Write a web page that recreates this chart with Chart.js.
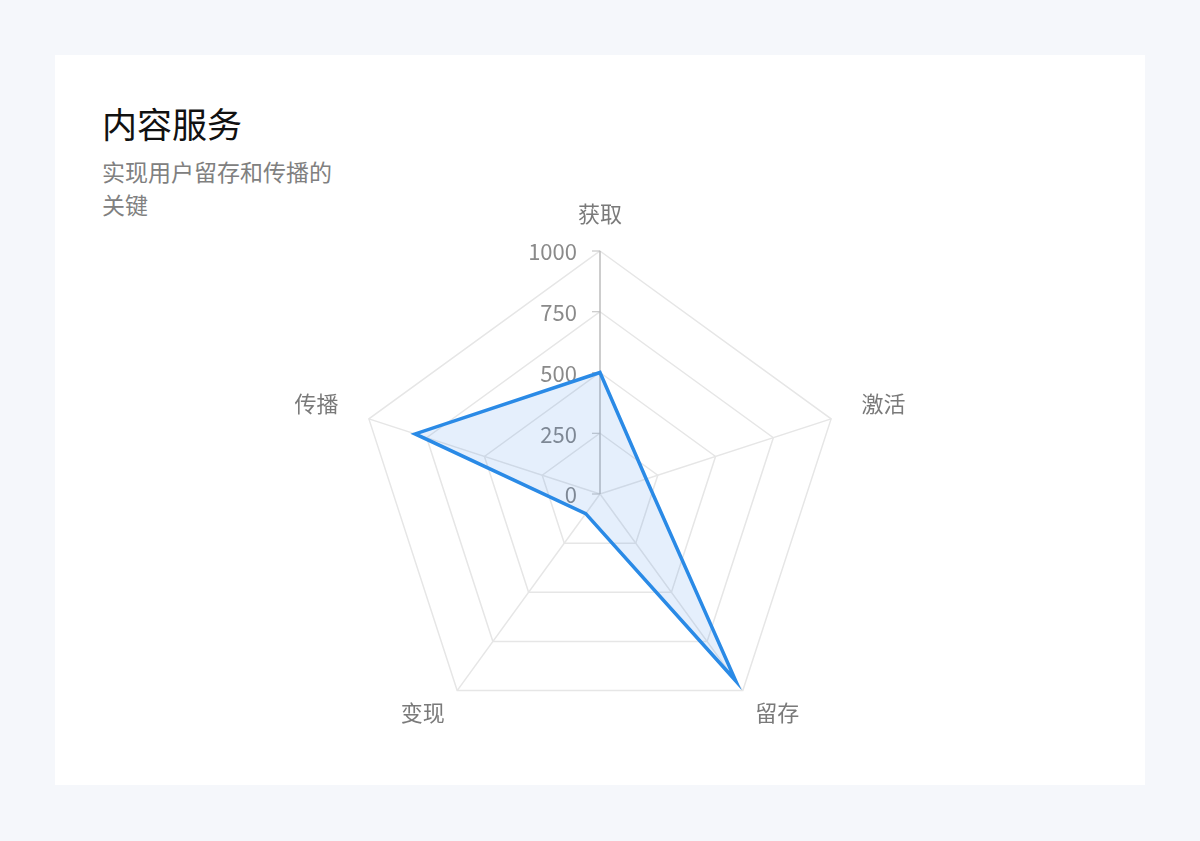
<!DOCTYPE html>
<html>
<head>
<meta charset="utf-8">
<script src="https://cdn.jsdelivr.net/npm/chart.js@4.4.0/dist/chart.umd.min.js"></script>
<style>
  html, body { margin: 0; padding: 0; background: #f5f7fb; }
  body { width: 1200px; height: 841px; position: relative; font-family: "Noto Sans CJK SC", "Noto Sans", sans-serif; }
  .card { position: absolute; left: 55px; top: 55px; width: 1090px; height: 730px; background: #fff; }
  .title { position: absolute; left: 47px; top: 45px; font-size: 35px; color: #111; line-height: 46px; }
  .sub { position: absolute; left: 47px; top: 100px; width: 240px; font-size: 23px; color: #808080; line-height: 33px; }
  .wrap { position: absolute; left: 200px; top: 132px; width: 690px; height: 572px; }
</style>
</head>
<body>
<div class="card">
  <div class="title">内容服务</div>
  <div class="sub">实现用户留存和传播的关键</div>
  <div class="wrap"><canvas id="radar"></canvas></div>
</div>
<script>
// 维度与数值
const labels = ['获取', '激活', '留存', '变现', '传播'];
const values = [500, 200, 950, 100, 800];
const tickValues = [0, 250, 500, 750, 1000];
const labelGap = [32, 32, 21, 21, 32];

// 刻度文字画在轴线左侧，带小刻度线
const tickPlugin = {
  id: 'leftTicks',
  beforeDatasetsDraw(chart) {
    const s = chart.scales.r;
    const ctx = chart.ctx;
    ctx.save();
    ctx.font = '22px "Noto Sans CJK SC", "Noto Sans", sans-serif';
    ctx.fillStyle = '#8a8a8a';
    ctx.textAlign = 'right';
    ctx.textBaseline = 'middle';
    ctx.strokeStyle = '#bdbdbd';
    ctx.lineWidth = 1;
    tickValues.forEach(v => {
      const d = s.getDistanceFromCenterForValue(v);
      const p = s.getPointPosition(0, d);
      ctx.beginPath();
      ctx.moveTo(p.x - 8, p.y);
      ctx.lineTo(p.x, p.y);
      ctx.stroke();
      ctx.fillText(String(v), p.x - 23, p.y + 1);
    });
    ctx.restore();
  }
};

new Chart(document.getElementById('radar'), {
  type: 'radar',
  data: {
    labels,
    datasets: [{
      data: values,
      borderColor: '#2a8ae6',
      backgroundColor: 'rgba(42,120,230,0.12)',
      borderWidth: 3.5,
      pointRadius: 0,
      fill: true
    }]
  },
  options: {
    responsive: true,
    maintainAspectRatio: false,
    animation: false,
    plugins: { legend: { display: false }, tooltip: { enabled: false } },
    scales: {
      r: {
        min: 0, max: 1000,
        ticks: { stepSize: 250, display: false },
        grid: { color: '#e6e6e6', lineWidth: 1.5 },
        angleLines: { color: c => c.index === 0 ? '#bdbdbd' : '#e6e6e6', lineWidth: 1.5 },
        pointLabels: {
          color: '#7a7a7a',
          padding: c => labelGap[c.index],
          font: { size: 22, lineHeight: 0.5, family: '"Noto Sans CJK SC", "Noto Sans", sans-serif' }
        }
      }
    }
  },
  plugins: [tickPlugin]
});
</script>
</body>
</html>
